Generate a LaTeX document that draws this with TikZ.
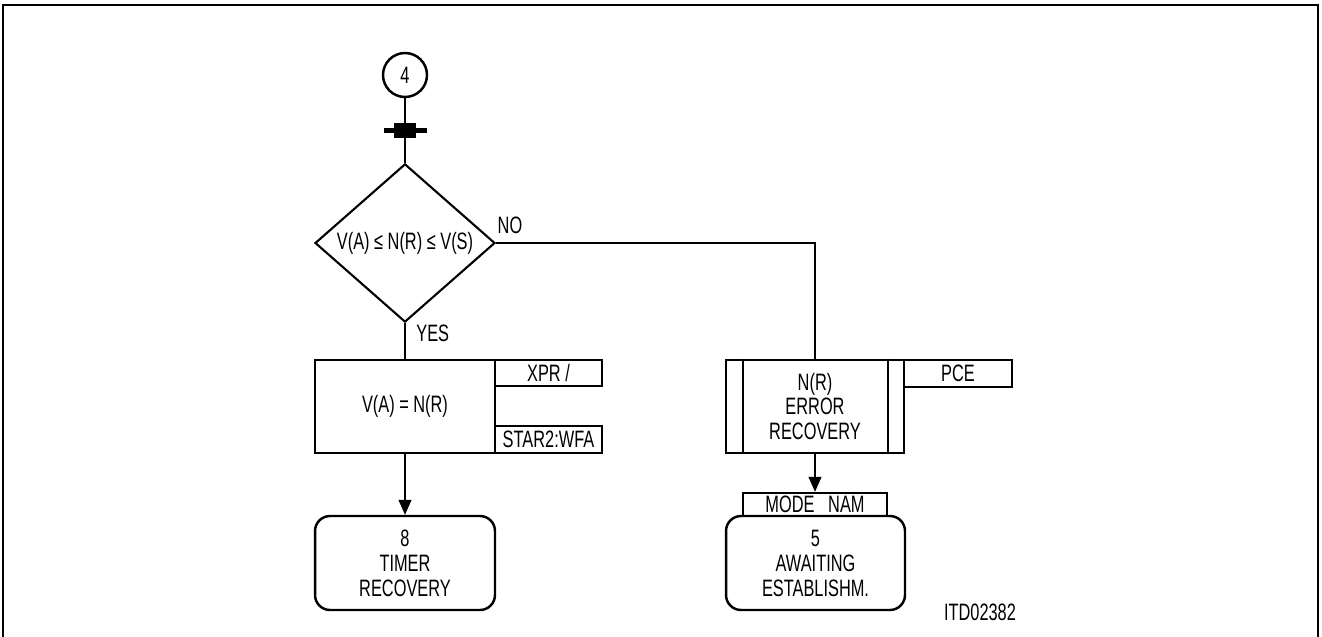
\documentclass[tikz,border=0pt]{standalone}
\usepackage{fontspec}
\setmainfont{Liberation Sans}[FakeStretch=0.69]
\usetikzlibrary{arrows.meta,shapes.geometric}
\tikzset{
  blk/.style={draw,line width=1.4pt,inner sep=0pt,align=center},
  flow/.style={line width=0.6pt},
  arr/.style={flow,-{Triangle[length=0.3cm,width=0.26cm]}},
}
\begin{document}
\begin{tikzpicture}[x=0.02cm,y=-0.02cm,font=\fontsize{13.5pt}{14.2pt}\selectfont]
\useasboundingbox (0,0) rectangle (1322,636);
\draw[line width=0.6pt] (3,640) |- (1318,5) -- (1318,640);
% entry and test
\node[blk,circle,minimum size=0.88cm] (s4) at (405,75) {4};
\node[blk,diamond,line width=1.2pt,minimum width=3.6cm,minimum height=3.12cm] (cmp) at (405,243) {V(A) ≤ N(R) ≤ V(S)};
\node[inner sep=0pt] (no) at (510,225) {NO};
\node[inner sep=0pt,right] (yes) at (416,333) {YES};
% yes branch
\node[blk,minimum width=3.6cm,minimum height=1.86cm] (upd) at (405,406.5) {V(A) = N(R)};
\node[blk,minimum width=2.14cm,minimum height=0.52cm] (xpr) at (548.5,373) {XPR /};
\node[blk,minimum width=2.14cm,minimum height=0.54cm] (star) at (548.5,439.5) {STAR2:WFA};
\node[blk,rounded corners=0.3cm,minimum width=3.6cm,minimum height=1.88cm] (tr8) at (405,563) {8\\TIMER\\RECOVERY};
% no branch
\node[blk,minimum width=3.56cm,minimum height=1.86cm] (err) at (815,406.5) {N(R)\\ERROR\\RECOVERY};
\foreach \c/\d in {west/0.36cm,east/-0.34cm}
  \draw[line width=1.4pt] ([xshift=\d]err.north \c) -- ([xshift=\d]err.south \c);
\node[blk,minimum width=2.16cm,minimum height=0.54cm] (pce) at (958,373.5) {PCE};
\node[blk,minimum width=2.88cm,minimum height=0.46cm] (mode) at (815,504.5) {MODE\ \ \ NAM};
\node[blk,rounded corners=0.3cm,minimum width=3.58cm,minimum height=1.88cm] (aw5) at (815.5,563) {5\\AWAITING\\ESTABLISHM.};
\node[inner sep=0pt] (itd) at (980,612) {ITD02382};
% connectors
\draw[flow] (s4) -- (cmp);
\fill (384,127.5) rectangle (427,132.5);
\fill (394,123) rectangle (416,138);
\draw[flow] (cmp.south) -- (upd.north);
\draw[flow] (cmp.east) -| (err.north);
\draw[arr] (upd) -- (tr8);
\draw[arr] (err) -- (mode);
\end{tikzpicture}
\end{document}
